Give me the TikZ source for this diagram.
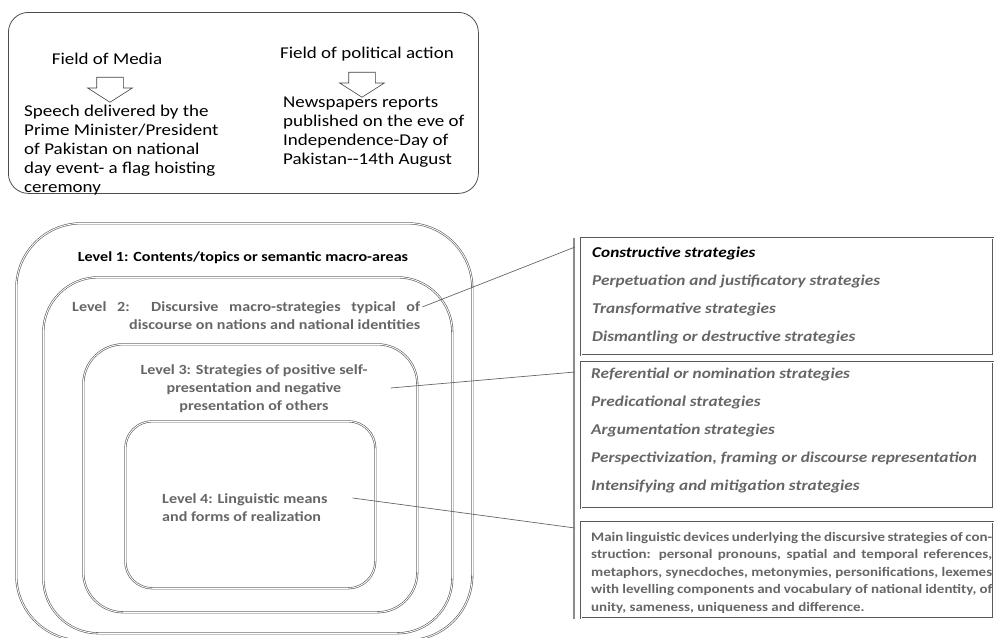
\documentclass[tikz,border=0pt]{standalone}
\usepackage{fontspec}
\setmainfont{Carlito}[FakeStretch=1.15]
\usetikzlibrary{shapes.arrows, positioning, calc}

\tikzset{
  fieldfont/.style={font=\fontsize{16.5}{19}\selectfont, inner sep=0pt},
  downarrow/.style={single arrow, draw=black!75, line width=0.6pt,
    minimum height=25pt, minimum width=44pt, single arrow head extend=9pt,
    single arrow tip angle=115, rotate=-90, inner xsep=0pt, inner ysep=13pt},
  levelframe/.style={draw=black!65, line width=0.6pt, double=white,
    double distance=0.9pt, anchor=north west, inner sep=0pt},
  leveltext/.style={font=\bfseries\fontsize{14}{18}\selectfont, text=black!60, inner sep=0pt},
  stratbox/.style={draw=black!65, line width=0.6pt, double=white,
    double distance=0.9pt, anchor=north west, inner sep=0pt, minimum width=412pt},
  strattext/.style={font=\bfseries\itshape\fontsize{15}{27.8}\selectfont, text=black!60,
    inner sep=0pt, anchor=base west, align=left},
  link/.style={draw=black!60, line width=0.7pt}
}

\begin{document}
\begin{tikzpicture}[x=1pt, y=-1pt]
  \useasboundingbox (0,0) rectangle (998,637);

  % fields of action
  \node[draw=black!70, line width=0.8pt, rounded corners=20pt, anchor=north west,
    minimum width=470pt, minimum height=181pt, inner sep=0pt] (fields) at (8,12) {};
  \node[fieldfont, anchor=base] (media) at (107,64) {Field of Media};
  \node[fieldfont, anchor=base] (polit) at (367,58) {Field of political action};
  \node[downarrow] (arrmedia) at (110,85.5) {};
  \node[downarrow] (arrpolit) at (362,80.5) {};
  % base of these nodes is their last line
  \node[fieldfont, anchor=base west, align=left] (speech) at (24,192)
    {Speech delivered by the\\Prime Minister/President\\of Pakistan on national\\day event- a flag hoisting\\ceremony};
  \node[fieldfont, anchor=base west, align=left] (press) at (283,164)
    {Newspapers reports\\published on the eve of\\Independence-Day of\\Pakistan-{}-14th August};

  % nested levels
  \node[levelframe, rounded corners=65pt, minimum width=456pt, minimum height=417pt] (lv1) at (16,223) {};
  \node[levelframe, rounded corners=55pt, minimum width=409pt, minimum height=356pt] (lv2) at (43,277) {};
  \node[levelframe, rounded corners=40pt, minimum width=334pt, minimum height=268pt] (lv3) at (83,344) {};
  \node[levelframe, rounded corners=27pt, minimum width=250pt, minimum height=167pt] (lv4) at (125,421) {};

  \node[leveltext, text=black, anchor=base] (l1txt) at (243,261)
    {Level 1: Contents/topics or semantic macro-areas};
  \node[leveltext, anchor=base west, text width=348pt, align=justify] (l2txt) at (72,311)
    {\parfillskip=0pt Level 2:\ \ Discursive macro-strategies typical of\linebreak
     \hspace*{\fill}discourse on nations and national identities};
  \node[leveltext, anchor=base, align=center] (l3txt) at (254,410)
    {Level 3: Strategies of positive self-\\presentation and negative\\presentation of others};
  \node[leveltext, anchor=base west, align=left] (l4txt) at (162,521)
    {Level 4: Linguistic means\\and forms of realization};

  % strategy boxes
  \node[stratbox, minimum height=117pt] (s1) at (581,238) {};
  \node[stratbox, minimum height=146pt] (s2) at (581,362) {};
  \node[stratbox, minimum height=96pt] (s3) at (581,522) {};
  \draw[draw=black!45, line width=1.5pt] ($(s1.north west)+(-7,0)$) -- ($(s3.south west)+(-7,0)$);

  \node[strattext] (macro) at (592,341)
    {\textcolor{black}{Constructive strategies}\\Perpetuation and justificatory strategies\\Transformative strategies\\Dismantling or destructive strategies};
  \node[strattext] (selfother) at (591,490)
    {Referential or nomination strategies\\Predicational strategies\\Argumentation strategies\\Perspectivization, framing or discourse representation\\Intensifying and mitigation strategies};
  \node[leveltext, font=\bfseries\fontsize{13}{17.5}\selectfont, anchor=base west,
    text width=401pt, align=justify] (devices) at (591,541)
    {Main linguistic devices underlying the discursive strategies of construction: personal pronouns, spatial and temporal references, metaphors, synecdoches, metonymies, personifications, lexemes with levelling components and vocabulary of national identity, of unity, sameness, uniqueness and difference.};

  % links from levels to boxes
  \draw[link] ($(l2txt.north east)+(2,6)$) -- ($(s1.north west)+(-6,9)$);
  \draw[link] ($(lv3.north east)+(-27,44)$) -- ($(s2.north west)+(-6,10)$);
  \draw[link] ($(lv4.north east)+(-23,77)$) -- ($(s3.north west)+(-6,6)$);
\end{tikzpicture}
\end{document}
